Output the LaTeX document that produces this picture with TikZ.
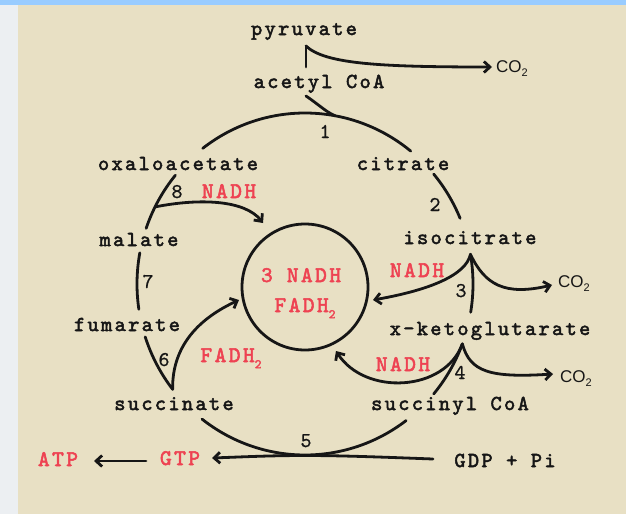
\documentclass[tikz,border=0pt]{standalone}
\usepackage{fontspec}
\usetikzlibrary{arrows.meta}
\newfontfamily\cycfont{lmmono10-regular}[Extension=.otf, LetterSpace=11, FakeBold=2.4]
\newfontfamily\numfont{lmmono10-regular}[Extension=.otf, FakeBold=0.8]
\newfontfamily\cosans{Liberation Sans}
\definecolor{beige}{RGB}{232,224,196}
\definecolor{topblue}{RGB}{153,204,255}
\definecolor{leftstrip}{RGB}{236,239,242}
\definecolor{ink}{RGB}{22,22,22}
\definecolor{redt}{RGB}{238,66,82}
\tikzset{
  lbl/.style={anchor=base, text=ink, inner sep=0pt, font=\cycfont\fontsize{21.3}{22}\selectfont},
  rlbl/.style={anchor=base, text=redt, inner sep=0pt, font=\cycfont\fontsize{22.3}{23}\selectfont},
  num/.style={anchor=base, text=ink, inner sep=0pt, font=\numfont\fontsize{21}{22}\selectfont},
  colbl/.style={anchor=base, text=ink, inner sep=0pt, font=\cosans\fontsize{17}{18}\selectfont},
  ln/.style={draw=ink, line width=2.8pt, line cap=round},
  arr/.style={ln, -{Straight Barb[length=6pt,width=11pt]}},
}
\newcommand{\subtwo}[1]{\raisebox{-0.28em}{\fontsize{#1}{#1}\selectfont 2}}
\begin{document}
\begin{tikzpicture}[x=1pt, y=-1pt]
\useasboundingbox (0,0) rectangle (626,514);
\fill[leftstrip] (0,0) rectangle (18,514);
\fill[beige] (18,5) rectangle (626,514);
\fill[topblue] (0,0) rectangle (626,5);

% labels
\node[lbl] (pyr)  at (304,35)  {pyruvate};
\node[lbl] (acoa) at (319,88)  {acetyl CoA};
\node[lbl] (oxa)  at (178,170) {oxaloacetate};
\node[lbl] (cit)  at (403,170) {citrate};
\node[lbl] (mal)  at (139,246) {malate};
\node[lbl] (iso)  at (470,244) {isocitrate};
\node[lbl] (fum)  at (127,331) {fumarate};
\node[lbl] (akg)  at (490,335) {x-ketoglutarate};
\node[lbl] (suc)  at (174,410) {succinate};
\node[lbl] (scoa) at (450,410) {succinyl CoA};
\node[lbl] (gdp)  at (505,467) {GDP + Pi};
\node[rlbl] (gtp) at (180,465) {GTP};
\node[rlbl] (atp) at (58,466)  {ATP};
\node[rlbl] (nadh8) at (229,198) {NADH};
\node[rlbl] (nadh3) at (417,277) {NADH};
\node[rlbl] (nadh4) at (403,371) {NADH};
\node[rlbl] (fadh6) at (231,362) {FADH\subtwo{13}};
\node[rlbl] (poolA) at (301,282) {3 NADH};
\node[rlbl] (poolB) at (305,312) {FADH\subtwo{13}};
\node[colbl] (co2a) at (512,72)  {CO\subtwo{11}};
\node[colbl] (co2b) at (574,287) {CO\subtwo{11}};
\node[colbl] (co2c) at (576,382) {CO\subtwo{11}};
\node[num] (n1) at (325,138) {1};
\node[num] (n2) at (435,211) {2};
\node[num] (n3) at (461,297) {3};
\node[num] (n4) at (460,379) {4};
\node[num] (n5) at (306,447) {5};
\node[num] (n6) at (164,366) {6};
\node[num] (n7) at (148,288) {7};
\node[num] (n8) at (177,198) {8};

% central pool
\node[draw=ink, circle, line width=2.8pt, minimum size=126pt, inner sep=0pt] (pool) at (305,287) {};

% cycle
\coordinate (C) at (305,284);
\draw[ln] (C) ++(-127.5:168 and 171) coordinate (s1a) arc[start angle=-127.5, end angle=-51, x radius=168, y radius=171] coordinate (s1b);
\draw[ln] (C) ++(-40:168 and 171) coordinate (s2a) arc[start angle=-40, end angle=-22.6, x radius=168, y radius=171] coordinate (s2b);
\draw[ln] (C) ++(-10:168 and 171) coordinate (s3a) arc[start angle=-10, end angle=9.5, x radius=168, y radius=171] coordinate (s3b);
\draw[ln] (C) ++(20.5:168 and 171) coordinate (s4a) arc[start angle=20.5, end angle=40, x radius=168, y radius=171] coordinate (s4b);
\draw[ln] (C) ++(53:168 and 171) coordinate (s5a) arc[start angle=53, end angle=127.8, x radius=168, y radius=171] coordinate (s5b);
\draw[ln] (C) ++(162:168 and 171) coordinate (s6a) arc[start angle=162, end angle=142, x radius=168, y radius=171] coordinate (s6b);
\draw[ln] (C) ++(190.5:168 and 171) coordinate (s7a) arc[start angle=190.5, end angle=171.5, x radius=168, y radius=171] coordinate (s7b);
\draw[ln] (C) ++(219.5:168 and 171) coordinate (s8a) arc[start angle=219.5, end angle=199, x radius=168, y radius=171] coordinate (s8b);
\path (C) ++(206.8:168 and 171) coordinate (n8s);
\path (C) ++(-79.7:168 and 171) coordinate (j1);

% end points
\coordinate (pyrB) at (306,46);
\coordinate (acoaT) at (306,67);
\coordinate (acoaB) at (306,96);
\coordinate (co2aW) at (492,67);
\coordinate (co2bW) at (552,285);
\coordinate (co2cW) at (553,374);
\coordinate (pool3) at (373,300);
\coordinate (pool4) at (336,351);
\coordinate (pool8) at (263,223);
\coordinate (pool6) at (239,300);
\coordinate (gdpW) at (433,459);
\coordinate (btm) at (305,455.5);
\coordinate (gtpE) at (212,458);
\coordinate (gtpW) at (146,461);
\coordinate (atpE) at (94,461);

% pyruvate -> acetyl CoA
\draw[ln] (pyrB) -- (acoaT);
\draw[arr] (pyrB) .. controls (325,64) and (380,67) .. (co2aW);
\draw[ln] (acoaB) .. controls (318,104) and (326,112) .. (j1);

% isocitrate branch
\draw[arr] (s3a) .. controls (466,275) and (430,290) .. (pool3);
\draw[arr] (s3a) .. controls (485,285) and (505,296) .. (co2bW);
% ketoglutarate branch
\draw[arr] (s4a) .. controls (445,392) and (365,396) .. (pool4);
\draw[arr] (s4a) .. controls (470,372) and (490,378) .. (co2cW);
% malate branch
\draw[arr] (n8s) .. controls (200,198) and (245,200) .. (pool8);
% succinate branch
\draw[arr] (s6b) .. controls (172,345) and (200,318) .. (pool6);
% GTP
\draw[arr] (gdpW) .. controls (380,457) and (340,455.5) .. (btm) .. controls (270,455.5) and (240,457) .. (gtpE);
\draw[arr] (gtpW) -- (atpE);
\end{tikzpicture}
\end{document}
